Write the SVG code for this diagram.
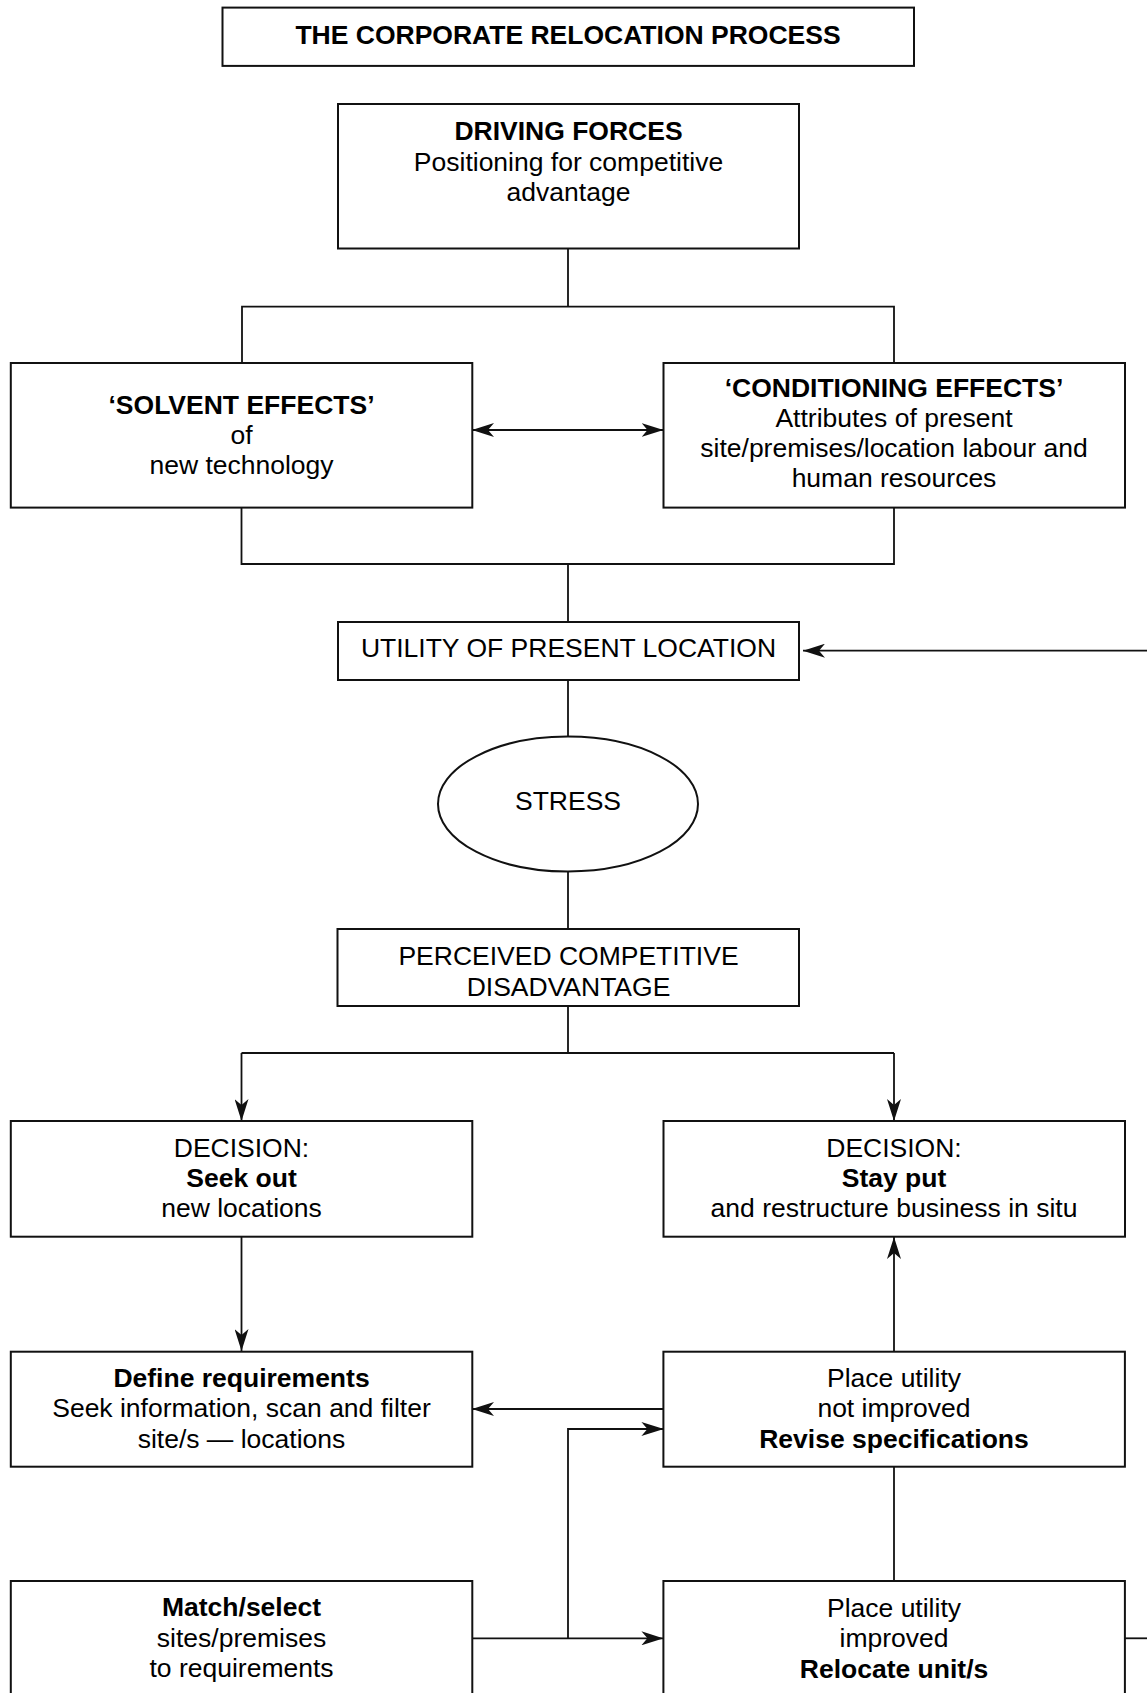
<svg xmlns="http://www.w3.org/2000/svg" width="1147" height="1693" viewBox="0 0 1147 1693">
<style>
.box{fill:#fff;stroke:#111;stroke-width:2}
.ln{fill:none;stroke:#111;stroke-width:1.8}
text{font-family:"Liberation Sans",Arial,sans-serif;font-size:26.5px;fill:#000;text-anchor:middle}
.b{font-weight:bold}
</style>
<defs>
<marker id="ah" markerUnits="userSpaceOnUse" viewBox="0 0 22 14" refX="22" refY="7" markerWidth="22" markerHeight="14" orient="auto-start-reverse">
<path d="M0,0 L22,7 L0,14 L6,7 Z" fill="#111"/>
</marker>
</defs>
<rect width="1147" height="1693" fill="#fff"/>
<g id="connectors">
<path class="ln" d="M568,248.5 V306.6 M242,363 V306.6 H894 V363"/>
<path class="ln" d="M472,430 H663.5" marker-start="url(#ah)" marker-end="url(#ah)"/>
<path class="ln" d="M241.5,507.6 V564 H894 V507.6 M568,564 V622"/>
<path class="ln" d="M1147,650.7 H803" marker-end="url(#ah)"/>
<path class="ln" d="M568,680 V736"/>
<path class="ln" d="M568,872 V929"/>
<path class="ln" d="M568,1006 V1053 M241.5,1053 H894"/>
<path class="ln" d="M241.5,1053 V1121" marker-end="url(#ah)"/>
<path class="ln" d="M894,1053 V1121" marker-end="url(#ah)"/>
<path class="ln" d="M241.5,1237 V1351" marker-end="url(#ah)"/>
<path class="ln" d="M894,1351.7 V1237" marker-end="url(#ah)"/>
<path class="ln" d="M663.4,1409 H472" marker-end="url(#ah)"/>
<path class="ln" d="M472,1638.3 H663.4" marker-end="url(#ah)"/>
<path class="ln" d="M568,1638.3 V1429 H663.4" marker-end="url(#ah)"/>
<path class="ln" d="M894,1467 V1581"/>
<path class="ln" d="M1125,1638.3 H1147"/>
</g>
<g id="title">
<rect class="box" x="222.5" y="7.6" width="691.5" height="58.3"/>
<text class="b" x="568" y="44">THE CORPORATE RELOCATION PROCESS</text>
</g>
<g id="driving-forces">
<rect class="box" x="338" y="104" width="461" height="144.5"/>
<text class="b" x="568.5" y="140">DRIVING FORCES</text>
<text x="568.5" y="170.5">Positioning for competitive</text>
<text x="568.5" y="200.5">advantage</text>
</g>
<g id="solvent-effects">
<rect class="box" x="10.8" y="363" width="461.5" height="144.6"/>
<text class="b" x="241.5" y="414">‘SOLVENT EFFECTS’</text>
<text x="241.5" y="444">of</text>
<text x="241.5" y="474">new technology</text>
</g>
<g id="conditioning-effects">
<rect class="box" x="663.5" y="363" width="461.5" height="144.6"/>
<text class="b" x="894" y="397">‘CONDITIONING EFFECTS’</text>
<text x="894" y="427">Attributes of present</text>
<text x="894" y="457">site/premises/location labour and</text>
<text x="894" y="487">human resources</text>
</g>
<g id="utility">
<rect class="box" x="338" y="622" width="461" height="58"/>
<text x="568.5" y="657.3">UTILITY OF PRESENT LOCATION</text>
</g>
<g id="stress">
<ellipse class="box" cx="568" cy="804" rx="130" ry="67.5"/>
<text x="568" y="810">STRESS</text>
</g>
<g id="perceived">
<rect class="box" x="337.5" y="929" width="461.5" height="77"/>
<text x="568.5" y="965">PERCEIVED COMPETITIVE</text>
<text x="568.5" y="995.5">DISADVANTAGE</text>
</g>
<g id="seek-out">
<rect class="box" x="10.8" y="1121" width="461.5" height="115.7"/>
<text x="241.5" y="1157.3">DECISION:</text>
<text class="b" x="241.5" y="1187">Seek out</text>
<text x="241.5" y="1217">new locations</text>
</g>
<g id="stay-put">
<rect class="box" x="663.5" y="1121" width="461.5" height="115.7"/>
<text x="894" y="1157.3">DECISION:</text>
<text class="b" x="894" y="1187">Stay put</text>
<text x="894" y="1217">and restructure business in situ</text>
</g>
<g id="define-requirements">
<rect class="box" x="10.8" y="1351.7" width="461.5" height="115"/>
<text class="b" x="241.5" y="1386.5">Define requirements</text>
<text x="241.5" y="1417">Seek information, scan and filter</text>
<text x="241.5" y="1447.5">site/s — locations</text>
</g>
<g id="not-improved">
<rect class="box" x="663.4" y="1351.7" width="461.5" height="115"/>
<text x="894" y="1386.7">Place utility</text>
<text x="894" y="1417.3">not improved</text>
<text class="b" x="894" y="1448">Revise specifications</text>
</g>
<g id="match-select">
<rect class="box" x="10.8" y="1581" width="461.5" height="130"/>
<text class="b" x="241.5" y="1616">Match/select</text>
<text x="241.5" y="1646.5">sites/premises</text>
<text x="241.5" y="1677">to requirements</text>
</g>
<g id="improved">
<rect class="box" x="663.4" y="1581" width="461.5" height="130"/>
<text x="894" y="1616.7">Place utility</text>
<text x="894" y="1646.7">improved</text>
<text class="b" x="894" y="1678">Relocate unit/s</text>
</g>
</svg>
